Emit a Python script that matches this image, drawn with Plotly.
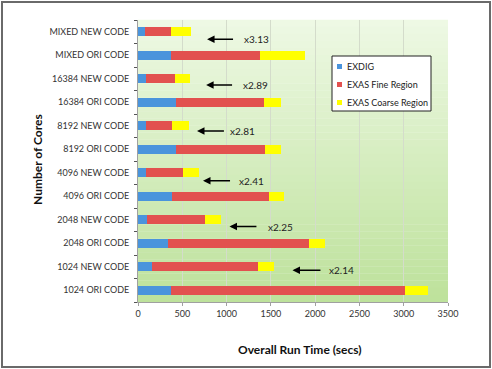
import plotly.graph_objects as go

categories = ["1024 ORI CODE", "1024 NEW CODE", "2048 ORI CODE", "2048 NEW CODE",
              "4096 ORI CODE", "4096 NEW CODE", "8192 ORI CODE", "8192 NEW CODE",
              "16384 ORI CODE", "16384 NEW CODE", "MIXED ORI CODE", "MIXED NEW CODE"]
exdig = [370, 160, 340, 100, 385, 95, 430, 85, 425, 90, 375, 75]
exas_fine = [2640, 1190, 1585, 660, 1090, 415, 1000, 300, 1000, 325, 1000, 300]
exas_coarse = [260, 180, 185, 180, 175, 175, 185, 190, 185, 175, 510, 220]
speedups = ["x2.14", "x2.25", "x2.41", "x2.81", "x2.89", "x3.13"]
series_names = ["EXDIG", "EXAS Fine Region", "EXAS Coarse Region"]

# annotation placement (style): (arrow tip x, arrow tail x, text x, y index)
arrow_pos = [(1744, 2077, 2134, 0.85), (1033, 1354, 1446, 2.71), (734, 1056, 1113, 4.66),
             (666, 987, 1021, 6.78), (769, 1079, 1159, 8.73), (780, 1090, 1170, 10.68)]
colors = ["#4a94dc", "#e2514f", "#ffff00"]

FONT = "Lato, 'Open Sans', sans-serif"
L, R, T, B = 138, 448, 20, 302
PW, PH = R - L, B - T


def px(x):
    return (x - L) / PW


def py(y):
    return (B - y) / PH


fig = go.Figure()
for name, vals, col in zip(series_names, [exdig, exas_fine, exas_coarse], colors):
    fig.add_trace(go.Bar(y=categories, x=vals, name=name, orientation="h", showlegend=False,
                         marker=dict(color=col, line=dict(width=0))))

shapes = []
# gradient background bands
n = 40
c0 = (238, 249, 228)
c1 = (190, 226, 156)
for i in range(n):
    t = i / (n - 1)
    r = int(c0[0] + (c1[0] - c0[0]) * t)
    g = int(c0[1] + (c1[1] - c0[1]) * t)
    b = int(c0[2] + (c1[2] - c0[2]) * t)
    shapes.append(dict(type="rect", xref="paper", yref="paper", x0=0, x1=1,
                       y0=1 - (i + 1) / n, y1=1 - i / n + 0.001,
                       fillcolor=f"rgb({r},{g},{b})", line=dict(width=0), layer="below"))
# outer frame
shapes.append(dict(type="rect", xref="paper", yref="paper",
                   x0=px(2), x1=px(490), y0=py(367), y1=py(2),
                   line=dict(color="#6a6a6a", width=2), fillcolor="rgba(0,0,0,0)"))
# custom legend box
shapes.append(dict(type="rect", xref="paper", yref="paper",
                   x0=px(332), x1=px(431), y0=py(111), y1=py(56),
                   line=dict(color="#222", width=1), fillcolor="white"))

annotations = []
for k, (name, col) in enumerate(zip(series_names, colors)):
    yy = 66.5 + 18 * k
    shapes.append(dict(type="rect", xref="paper", yref="paper",
                       x0=px(337), x1=px(342), y0=py(yy + 2.5), y1=py(yy - 2.5),
                       line=dict(width=0), fillcolor=col))
    annotations.append(dict(x=px(345), y=py(yy), xref="paper", yref="paper", text=name,
                            showarrow=False, xanchor="left", yanchor="middle",
                            font=dict(family=FONT, size=9, color="#222")))

for (tip, tail, tx, yy), lab in zip(arrow_pos, speedups):
    annotations.append(dict(x=tip, y=yy, ax=tail, ay=yy, xref="x", yref="y",
                            axref="x", ayref="y", showarrow=True, arrowhead=2,
                            arrowsize=1, arrowwidth=1.5, arrowcolor="black", text=""))
    annotations.append(dict(x=tx, y=yy, xref="x", yref="y", text=lab, showarrow=False,
                            xanchor="left", yanchor="middle",
                            font=dict(family=FONT, size=10, color="#222")))
annotations.append(dict(x=px(300), y=py(349), xref="paper", yref="paper",
                        text="<b>Overall Run Time (secs)</b>",
                        showarrow=False, font=dict(family=FONT, size=12, color="#111"),
                        xanchor="center", yanchor="middle"))
annotations.append(dict(x=px(37), y=py(160), xref="paper", yref="paper",
                        text="<b>Number of Cores</b>",
                        showarrow=False, textangle=-90, font=dict(family=FONT, size=12, color="#111"),
                        xanchor="center", yanchor="middle"))

fig.update_layout(
    width=492, height=369,
    margin=dict(l=L, r=492 - R, t=T, b=369 - B, autoexpand=False),
    paper_bgcolor="white", plot_bgcolor="rgba(0,0,0,0)",
    barmode="stack", bargap=0.6, showlegend=False,
    font=dict(family=FONT, size=9, color="#333"),
    shapes=shapes, annotations=annotations,
    xaxis=dict(range=[0, 3500], dtick=500, showgrid=True, gridcolor="#d4dccb", gridwidth=1,
               zeroline=False, showline=True, linecolor="#a0a0a0", ticks="outside",
               ticklen=3, tickcolor="#a0a0a0", tickfont=dict(family=FONT, size=9, color="#333"),
               automargin=False, fixedrange=True),
    yaxis=dict(type="category", categoryorder="array", categoryarray=categories,
               range=[-0.5, 11.5], showgrid=False, showline=True, linecolor="#a0a0a0",
               ticks="outside", tickson="boundaries", ticklen=3, tickcolor="#555",
               tickfont=dict(family=FONT, size=9, color="#333"), ticklabelstandoff=6,
               automargin=False),
)

fig.write_html("out.html", config={"displayModeBar": False},
               post_script="document.body.style.margin='0';document.body.style.overflow='hidden';")
